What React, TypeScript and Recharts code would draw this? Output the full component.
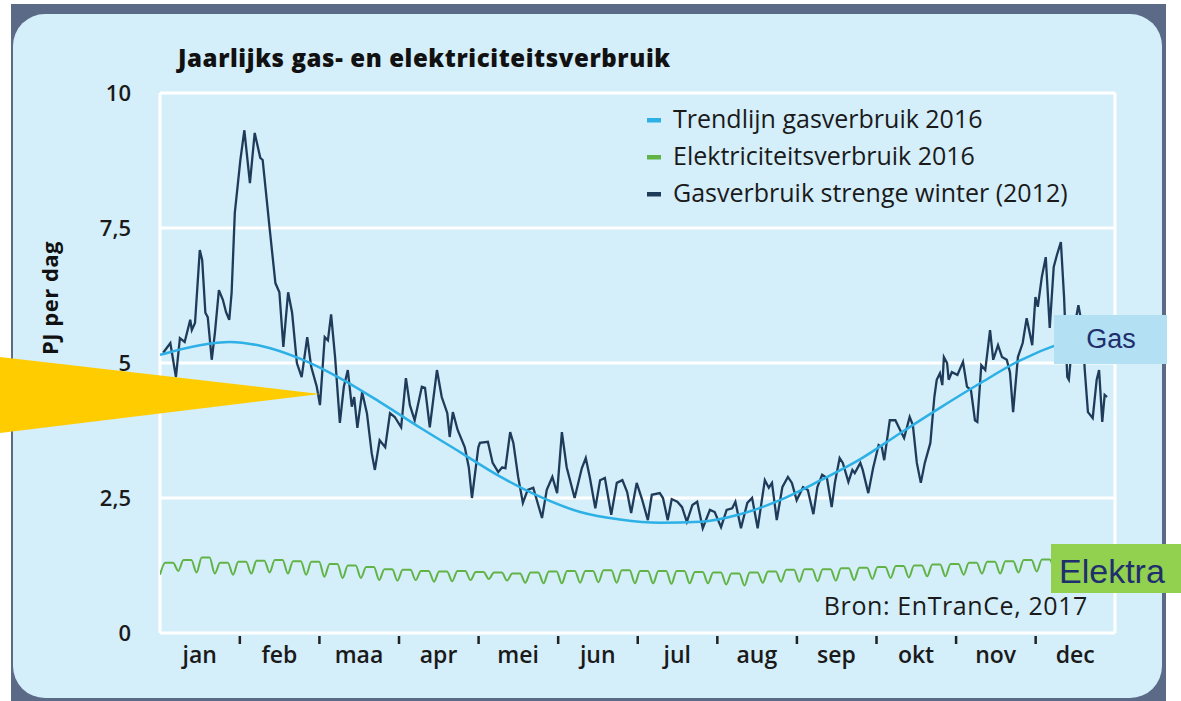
import React from 'react';
import { LineChart, Line, XAxis, YAxis, CartesianGrid, ReferenceLine } from 'recharts';

const W = 1181;
const H = 701;

const monthLabels = ['jan', 'feb', 'maa', 'apr', 'mei', 'jun', 'jul', 'aug', 'sep', 'okt', 'nov', 'dec'];
const monthCenters = [0.5, 1.5, 2.5, 3.5, 4.5, 5.5, 6.5, 7.5, 8.5, 9.5, 10.5, 11.5];
const yTicks = [0, 2.5, 5, 7.5, 10];

// x = position in months (0 = 1 jan, 12 = end of dec), y = PJ per dag
const trendGas2016: [number, number][] = [
  [0, 5.15], [0.5, 5.33], [0.88, 5.39], [1.26, 5.32], [1.76, 5.08], [2.26, 4.72],
  [2.76, 4.28], [3.27, 3.8], [3.77, 3.35], [4.27, 2.9], [4.78, 2.52], [5.28, 2.24],
  [5.78, 2.1], [6.28, 2.04], [6.79, 2.06], [7.29, 2.2], [7.79, 2.46], [8.29, 2.82],
  [8.8, 3.22], [9.3, 3.7], [9.8, 4.17], [10.3, 4.62], [10.81, 5.05], [11.31, 5.36], [12, 5.6],
];

const gasStrengeWinter2012: [number, number][] = [
  [0.04, 5.19], [0.13, 5.37], [0.2, 4.74], [0.25, 5.46], [0.31, 5.39], [0.38, 5.8], [0.4, 5.61],
  [0.44, 5.74], [0.5, 7.09], [0.53, 6.91], [0.57, 5.93], [0.6, 5.85], [0.65, 5.06], [0.69, 5.56],
  [0.74, 6.35], [0.79, 6.17], [0.83, 5.94], [0.87, 5.8], [0.9, 6.3], [0.94, 7.78], [1.01, 8.76],
  [1.06, 9.31], [1.13, 8.33], [1.19, 9.26], [1.26, 8.8], [1.29, 8.76], [1.38, 7.46], [1.45, 6.48],
  [1.5, 6.31], [1.55, 5.3], [1.61, 6.31], [1.66, 5.93], [1.72, 5.0], [1.78, 4.74], [1.85, 5.48],
  [1.9, 4.93], [1.97, 4.56], [2.01, 4.22], [2.07, 5.48], [2.11, 5.42], [2.15, 5.9], [2.2, 5.11],
  [2.26, 3.89], [2.31, 4.56], [2.36, 4.87], [2.41, 4.19], [2.44, 4.37], [2.48, 3.8], [2.54, 4.46],
  [2.6, 4.07], [2.66, 3.33], [2.7, 3.02], [2.76, 3.57], [2.83, 3.44], [2.89, 4.07], [2.95, 4.0],
  [3.03, 3.81], [3.09, 4.72], [3.14, 4.22], [3.2, 3.94], [3.29, 4.56], [3.33, 4.54], [3.39, 3.81],
  [3.48, 4.87], [3.54, 4.37], [3.61, 4.07], [3.64, 3.63], [3.68, 4.09], [3.74, 3.76], [3.83, 3.44],
  [3.88, 3.07], [3.92, 2.5], [4.0, 3.44], [4.02, 3.52], [4.12, 3.54], [4.18, 3.15], [4.25, 2.98],
  [4.3, 3.07], [4.34, 3.05], [4.4, 3.72], [4.44, 3.52], [4.5, 2.89], [4.56, 2.41], [4.62, 2.65],
  [4.69, 2.69], [4.8, 2.13], [4.86, 2.65], [4.93, 2.89], [4.99, 2.59], [5.05, 3.72], [5.11, 3.07],
  [5.21, 2.5], [5.3, 3.05], [5.35, 3.24], [5.4, 2.89], [5.47, 2.31], [5.53, 2.83], [5.59, 2.87],
  [5.67, 2.19], [5.74, 2.78], [5.81, 2.83], [5.87, 2.61], [5.92, 2.22], [5.99, 2.78], [6.06, 2.46],
  [6.13, 2.09], [6.18, 2.56], [6.28, 2.59], [6.32, 2.5], [6.38, 2.09], [6.43, 2.48], [6.5, 2.43],
  [6.56, 2.33], [6.62, 2.06], [6.69, 2.37], [6.75, 2.43], [6.82, 1.94], [6.91, 2.28], [6.97, 2.24],
  [7.05, 1.96], [7.12, 2.28], [7.19, 2.31], [7.23, 2.43], [7.3, 1.94], [7.38, 2.41], [7.44, 2.5],
  [7.51, 1.94], [7.6, 2.83], [7.65, 2.69], [7.69, 2.78], [7.75, 2.09], [7.82, 2.7], [7.89, 2.89],
  [7.94, 2.78], [8.0, 2.46], [8.08, 2.7], [8.14, 2.65], [8.21, 2.2], [8.26, 2.7], [8.32, 2.93],
  [8.38, 2.87], [8.44, 2.33], [8.48, 2.78], [8.54, 3.24], [8.58, 3.15], [8.65, 2.8], [8.7, 3.02],
  [8.73, 2.96], [8.8, 3.15], [8.83, 3.02], [8.9, 2.59], [8.96, 3.05], [9.03, 3.48], [9.07, 3.44],
  [9.1, 3.2], [9.17, 3.94], [9.24, 3.94], [9.3, 3.76], [9.35, 3.61], [9.42, 4.0], [9.46, 3.85],
  [9.51, 3.15], [9.56, 2.78], [9.61, 3.15], [9.68, 3.52], [9.73, 4.37], [9.76, 4.69], [9.8, 4.81],
  [9.83, 4.59], [9.85, 5.11], [9.89, 5.0], [9.91, 4.69], [9.95, 4.83], [10.02, 4.78], [10.09, 5.02],
  [10.14, 4.56], [10.19, 4.5], [10.24, 3.94], [10.27, 3.91], [10.32, 4.96], [10.37, 4.87],
  [10.43, 5.61], [10.47, 5.06], [10.53, 5.33], [10.58, 5.11], [10.64, 5.06], [10.68, 4.83],
  [10.72, 4.09], [10.78, 5.11], [10.84, 5.37], [10.89, 5.83], [10.96, 5.33], [11.0, 6.22],
  [11.03, 6.04], [11.08, 6.59], [11.13, 6.96], [11.18, 5.65], [11.23, 6.78], [11.27, 7.0],
  [11.32, 7.24], [11.36, 6.22], [11.4, 4.74], [11.42, 4.69], [11.47, 5.5], [11.54, 6.07],
  [11.59, 5.67], [11.62, 4.87], [11.66, 4.09], [11.72, 3.98], [11.77, 4.69], [11.8, 4.87],
  [11.84, 3.91], [11.87, 4.41], [11.9, 4.37],
];

// electricity 2016: weekday level and weekend low, per week
const elecWeekPeak = [
  1.3, 1.35, 1.4, 1.3, 1.32, 1.34, 1.35, 1.33, 1.32, 1.28, 1.25, 1.22, 1.18,
  1.17, 1.15, 1.14, 1.15, 1.13, 1.12, 1.1, 1.12, 1.14, 1.15, 1.15, 1.16, 1.16,
  1.15, 1.15, 1.15, 1.13, 1.12, 1.1, 1.12, 1.14, 1.17, 1.18, 1.18, 1.2, 1.21,
  1.22, 1.24, 1.25, 1.27, 1.28, 1.3, 1.32, 1.33, 1.35, 1.36, 1.38, 1.37, 1.35,
];
const elecWeekLow = [
  1.08, 1.15, 1.12, 1.1, 1.08, 1.1, 1.12, 1.1, 1.08, 1.04, 1.02, 1.02, 0.98,
  0.97, 0.98, 0.95, 0.96, 0.98, 1.0, 0.97, 0.93, 0.92, 0.92, 0.93, 0.94, 0.93,
  0.92, 0.92, 0.91, 0.92, 0.92, 0.9, 0.88, 0.93, 0.95, 0.95, 0.96, 0.97, 0.98,
  1.0, 1.02, 1.03, 1.05, 1.05, 1.08, 1.1, 1.1, 1.12, 1.14, 1.15, 1.14, 1.12, 1.15,
];

const legendItems = [
  { name: 'Trendlijn gasverbruik 2016', color: '#2cb0e6' },
  { name: 'Elektriciteitsverbruik 2016', color: '#62b346' },
  { name: 'Gasverbruik strenge winter (2012)', color: '#1e3b5a' },
];

const daysPerMonth = 366 / 12;
const trendData = trendGas2016.map(([m, v]) => ({ m, v }));
const gasData = gasStrengeWinter2012.map(([m, v]) => ({ m, v }));
const elecData: { m: number; v: number }[] = [];
elecWeekPeak.forEach((p, w) => {
  const d = w * 7;
  elecData.push({ m: d / daysPerMonth, v: elecWeekLow[w] });
  elecData.push({ m: (d + 2) / daysPerMonth, v: p });
  elecData.push({ m: (d + 5) / daysPerMonth, v: p });
});
elecData.push({ m: 364 / daysPerMonth, v: elecWeekLow[52] });

const FONT = '"Open Sans", sans-serif';
const HALF_MONTH = (1115 - 160) / 24;

const MonthTick = (props: any) => {
  const { x, y, payload } = props;
  const i = Math.floor(payload.value);
  return (
    <g>
      {i > 0 && <rect x={x - HALF_MONTH - 1} y={y + 3} width={2.5} height={8} fill="#222" />}
      <text x={x} y={y + 30} textAnchor="middle" fontFamily={FONT} fontWeight={600} fontSize={23} fill="#1a1a1a">
        {monthLabels[i]}
      </text>
    </g>
  );
};

export default function App() {
  return (
    <div style={{ position: 'absolute', left: 0, top: 0, width: W, height: H, background: '#fff', overflow: 'hidden' }}>
      <svg width={W} height={H} style={{ position: 'absolute', left: 0, top: 0 }}>
        <rect x={11} y={4} width={1155} height={697} fill="#5b6a87" />
        <rect x={13} y={14} width={1149} height={684} rx={32} fill="#d4eefa" />
      </svg>
      <div style={{ position: 'absolute', left: 0, top: 0 }}>
        <LineChart width={W} height={H} margin={{ top: 93, right: 66, left: 100, bottom: 28 }}>
          <CartesianGrid horizontal vertical={false} stroke="#ffffff" strokeWidth={3} />
          <XAxis
            dataKey="m"
            type="number"
            domain={[0, 12]}
            ticks={monthCenters}
            axisLine={false}
            tickLine={false}
            tickSize={0}
            tickMargin={0}
            height={40}
            tick={<MonthTick />}
            allowDataOverflow
          />
          <YAxis
            domain={[0, 10]}
            ticks={yTicks}
            width={60}
            axisLine={false}
            tickLine={false}
            tickSize={0}
            tickMargin={29}
            tickFormatter={(v: number) => String(v).replace('.', ',')}
            tick={{ fontFamily: FONT, fontWeight: 600, fontSize: 22, fill: '#1a1a1a' }}
          />
          <ReferenceLine x={0} stroke="#ffffff" strokeWidth={3} />
          <ReferenceLine x={12} stroke="#ffffff" strokeWidth={3} />
          <Line data={elecData} dataKey="v" type="monotone" stroke="#62b346" strokeWidth={2} dot={false} isAnimationActive={false} />
          <Line data={gasData} dataKey="v" type="linear" stroke="#1e3b5a" strokeWidth={2.3} dot={false} isAnimationActive={false} />
          <Line data={trendData} dataKey="v" type="monotone" stroke="#2cb0e6" strokeWidth={2.5} dot={false} isAnimationActive={false} />
        </LineChart>
      </div>
      <svg width={W} height={H} style={{ position: 'absolute', left: 0, top: 0, pointerEvents: 'none' }}>
        <text x={178} y={67} fontFamily={FONT} fontWeight={800} fontSize={24} letterSpacing={0.6} fill="#111">
          Jaarlijks gas- en elektriciteitsverbruik
        </text>
        {legendItems.map((it, i) => (
          <g key={it.name}>
            <rect x={647} y={118 + i * 37} width={14} height={4.5} fill={it.color} />
            <text x={673} y={128 + i * 37} fontFamily={FONT} fontSize={25} fill="#1a1a1a">
              {it.name}
            </text>
          </g>
        ))}
        <text
          x={0}
          y={0}
          transform="translate(58 298) rotate(-90)"
          textAnchor="middle"
          fontFamily={FONT}
          fontWeight={700}
          fontSize={22}
          letterSpacing={0.5}
          fill="#111"
        >
          PJ per dag
        </text>
        <text x={1088} y={615} textAnchor="end" fontFamily={FONT} fontSize={25} letterSpacing={0.6} fill="#1a1a1a">
          Bron: EnTranCe, 2017
        </text>
        <polygon points="0,357 320,394 0,433" fill="#ffcc00" />
        <rect x={1054} y={315} width={113} height={49} fill="#b3e0f3" />
        <text x={1111} y={348} textAnchor="middle" fontFamily="Liberation Sans, Arial, sans-serif" fontSize={27} fill="#1f2f6e">
          Gas
        </text>
        <rect x={1051} y={544} width={130} height={49} fill="#92d050" />
        <text x={1059} y={583} fontFamily="Liberation Sans, Arial, sans-serif" fontSize={34} fill="#1f2f6e">
          Elektra
        </text>
      </svg>
    </div>
  );
}
